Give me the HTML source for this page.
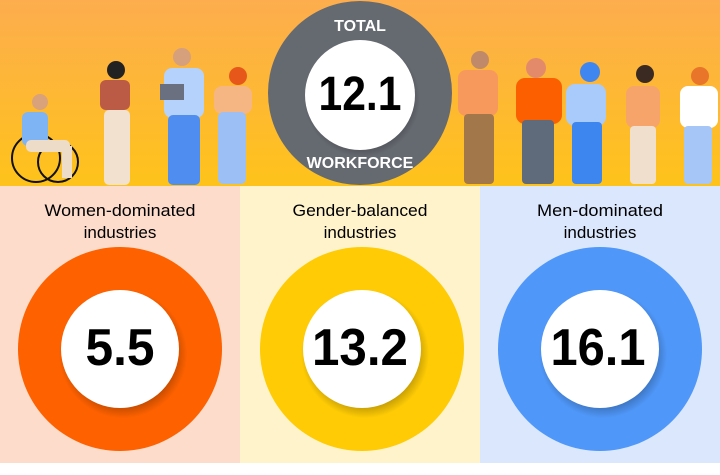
<!DOCTYPE html>
<html><head><meta charset="utf-8"><style>
body{margin:0;width:720px;height:470px;overflow:hidden;background:#fff;font-family:"Liberation Sans",Arial,sans-serif}
</style></head><body>
<svg width="720" height="470" viewBox="0 0 720 470" xmlns="http://www.w3.org/2000/svg">
<defs>
<linearGradient id="hg" x1="0" y1="0" x2="0" y2="1"><stop offset="0" stop-color="#fdad4e"/><stop offset="1" stop-color="#fec31a"/></linearGradient>
<radialGradient id="sh"><stop offset="0.8" stop-color="#000" stop-opacity="0.25"/><stop offset="1" stop-color="#000" stop-opacity="0"/></radialGradient>
</defs>
<rect x="0" y="0" width="720" height="187" fill="url(#hg)"/>
<rect x="0" y="186" width="240" height="277" fill="#fddccb"/>
<rect x="240" y="186" width="240" height="277" fill="#fff3cc"/>
<rect x="480" y="186" width="240" height="277" fill="#dbe7fd"/>

<g>
<circle cx="36" cy="158" r="24" fill="none" stroke="#111" stroke-width="2"/>
<circle cx="58" cy="162" r="20" fill="none" stroke="#111" stroke-width="2"/>
<rect x="22" y="112" width="26" height="34" rx="6" fill="#7fb4f4"/>
<rect x="26" y="140" width="44" height="12" rx="5" fill="#eddcc8"/>
<rect x="62" y="146" width="10" height="32" fill="#eddcc8"/>
<circle cx="40" cy="102" r="8" fill="#d9a27a"/>
<rect x="100" y="80" width="30" height="30" rx="6" fill="#bb5b45"/>
<rect x="104" y="110" width="26" height="75" rx="5" fill="#f1e1ce"/>
<circle cx="116" cy="70" r="9" fill="#222"/>
<rect x="164" y="68" width="40" height="50" rx="8" fill="#b4d2fb"/>
<rect x="168" y="115" width="32" height="70" rx="5" fill="#4f8df0"/>
<circle cx="182" cy="57" r="9" fill="#d6a07c"/>
<rect x="160" y="84" width="24" height="16" fill="#6a7080"/>
<rect x="214" y="86" width="38" height="28" rx="8" fill="#f6b684"/>
<rect x="218" y="112" width="28" height="72" rx="5" fill="#9cc0f5"/>
<circle cx="238" cy="76" r="9" fill="#e8571a"/>
</g>
<g>
<rect x="458" y="70" width="40" height="46" rx="8" fill="#f7995c"/>
<rect x="464" y="114" width="30" height="70" rx="4" fill="#a2784a"/>
<circle cx="480" cy="60" r="9" fill="#c08a6a"/>
<rect x="516" y="78" width="46" height="46" rx="9" fill="#fb5f00"/>
<rect x="522" y="120" width="32" height="64" rx="4" fill="#5f6b7a"/>
<circle cx="536" cy="68" r="10" fill="#e38a6a"/>
<rect x="566" y="84" width="40" height="42" rx="9" fill="#a9cbfb"/>
<rect x="572" y="122" width="30" height="62" rx="4" fill="#3e86ef"/>
<circle cx="590" cy="72" r="10" fill="#3f86f0"/>
<rect x="626" y="86" width="34" height="42" rx="8" fill="#f6a46a"/>
<rect x="630" y="126" width="26" height="58" rx="4" fill="#efdfcc"/>
<circle cx="645" cy="74" r="9" fill="#3a2a22"/>
<rect x="680" y="86" width="38" height="42" rx="8" fill="#fff"/>
<rect x="684" y="126" width="28" height="58" rx="4" fill="#a6c6f7"/>
<circle cx="700" cy="76" r="9" fill="#e8752a"/>
</g>

<ellipse cx="360" cy="93" rx="92" ry="92" fill="#656970"/>
<ellipse cx="362" cy="99" rx="58" ry="58" fill="url(#sh)"/>
<circle cx="360" cy="95" r="55" fill="#fff"/>
<text x="360" y="31" text-anchor="middle" font-size="16" font-weight="bold" fill="#fff">TOTAL</text>
<text x="360" y="168" text-anchor="middle" font-size="16" font-weight="bold" fill="#fff">WORKFORCE</text>
<text x="360" y="110" text-anchor="middle" font-size="48" font-weight="bold" fill="#000" textLength="83" lengthAdjust="spacingAndGlyphs">12.1</text>

<g font-size="17" fill="#000" text-anchor="middle">
<text x="120" y="216" textLength="151" lengthAdjust="spacingAndGlyphs">Women-dominated</text><text x="120" y="238">industries</text>
<text x="360" y="216" textLength="135" lengthAdjust="spacingAndGlyphs">Gender-balanced</text><text x="360" y="238">industries</text>
<text x="600" y="216" textLength="126" lengthAdjust="spacingAndGlyphs">Men-dominated</text><text x="600" y="238">industries</text>
</g>

<circle cx="120" cy="349" r="102" fill="#fd6100"/>
<circle cx="123" cy="354" r="64" fill="url(#sh)"/>
<circle cx="120" cy="349" r="59" fill="#fff"/>
<circle cx="362" cy="349" r="102" fill="#fecb05"/>
<circle cx="365" cy="354" r="64" fill="url(#sh)"/>
<circle cx="362" cy="349" r="59" fill="#fff"/>
<circle cx="600" cy="349" r="102" fill="#4f97f8"/>
<circle cx="603" cy="354" r="64" fill="url(#sh)"/>
<circle cx="600" cy="349" r="59" fill="#fff"/>
<g font-size="52" font-weight="bold" text-anchor="middle" fill="#000">
<text x="120" y="365" textLength="69" lengthAdjust="spacingAndGlyphs">5.5</text>
<text x="360" y="365" textLength="96" lengthAdjust="spacingAndGlyphs">13.2</text>
<text x="598" y="365" textLength="95" lengthAdjust="spacingAndGlyphs">16.1</text>
</g>
</svg>
</body></html>
